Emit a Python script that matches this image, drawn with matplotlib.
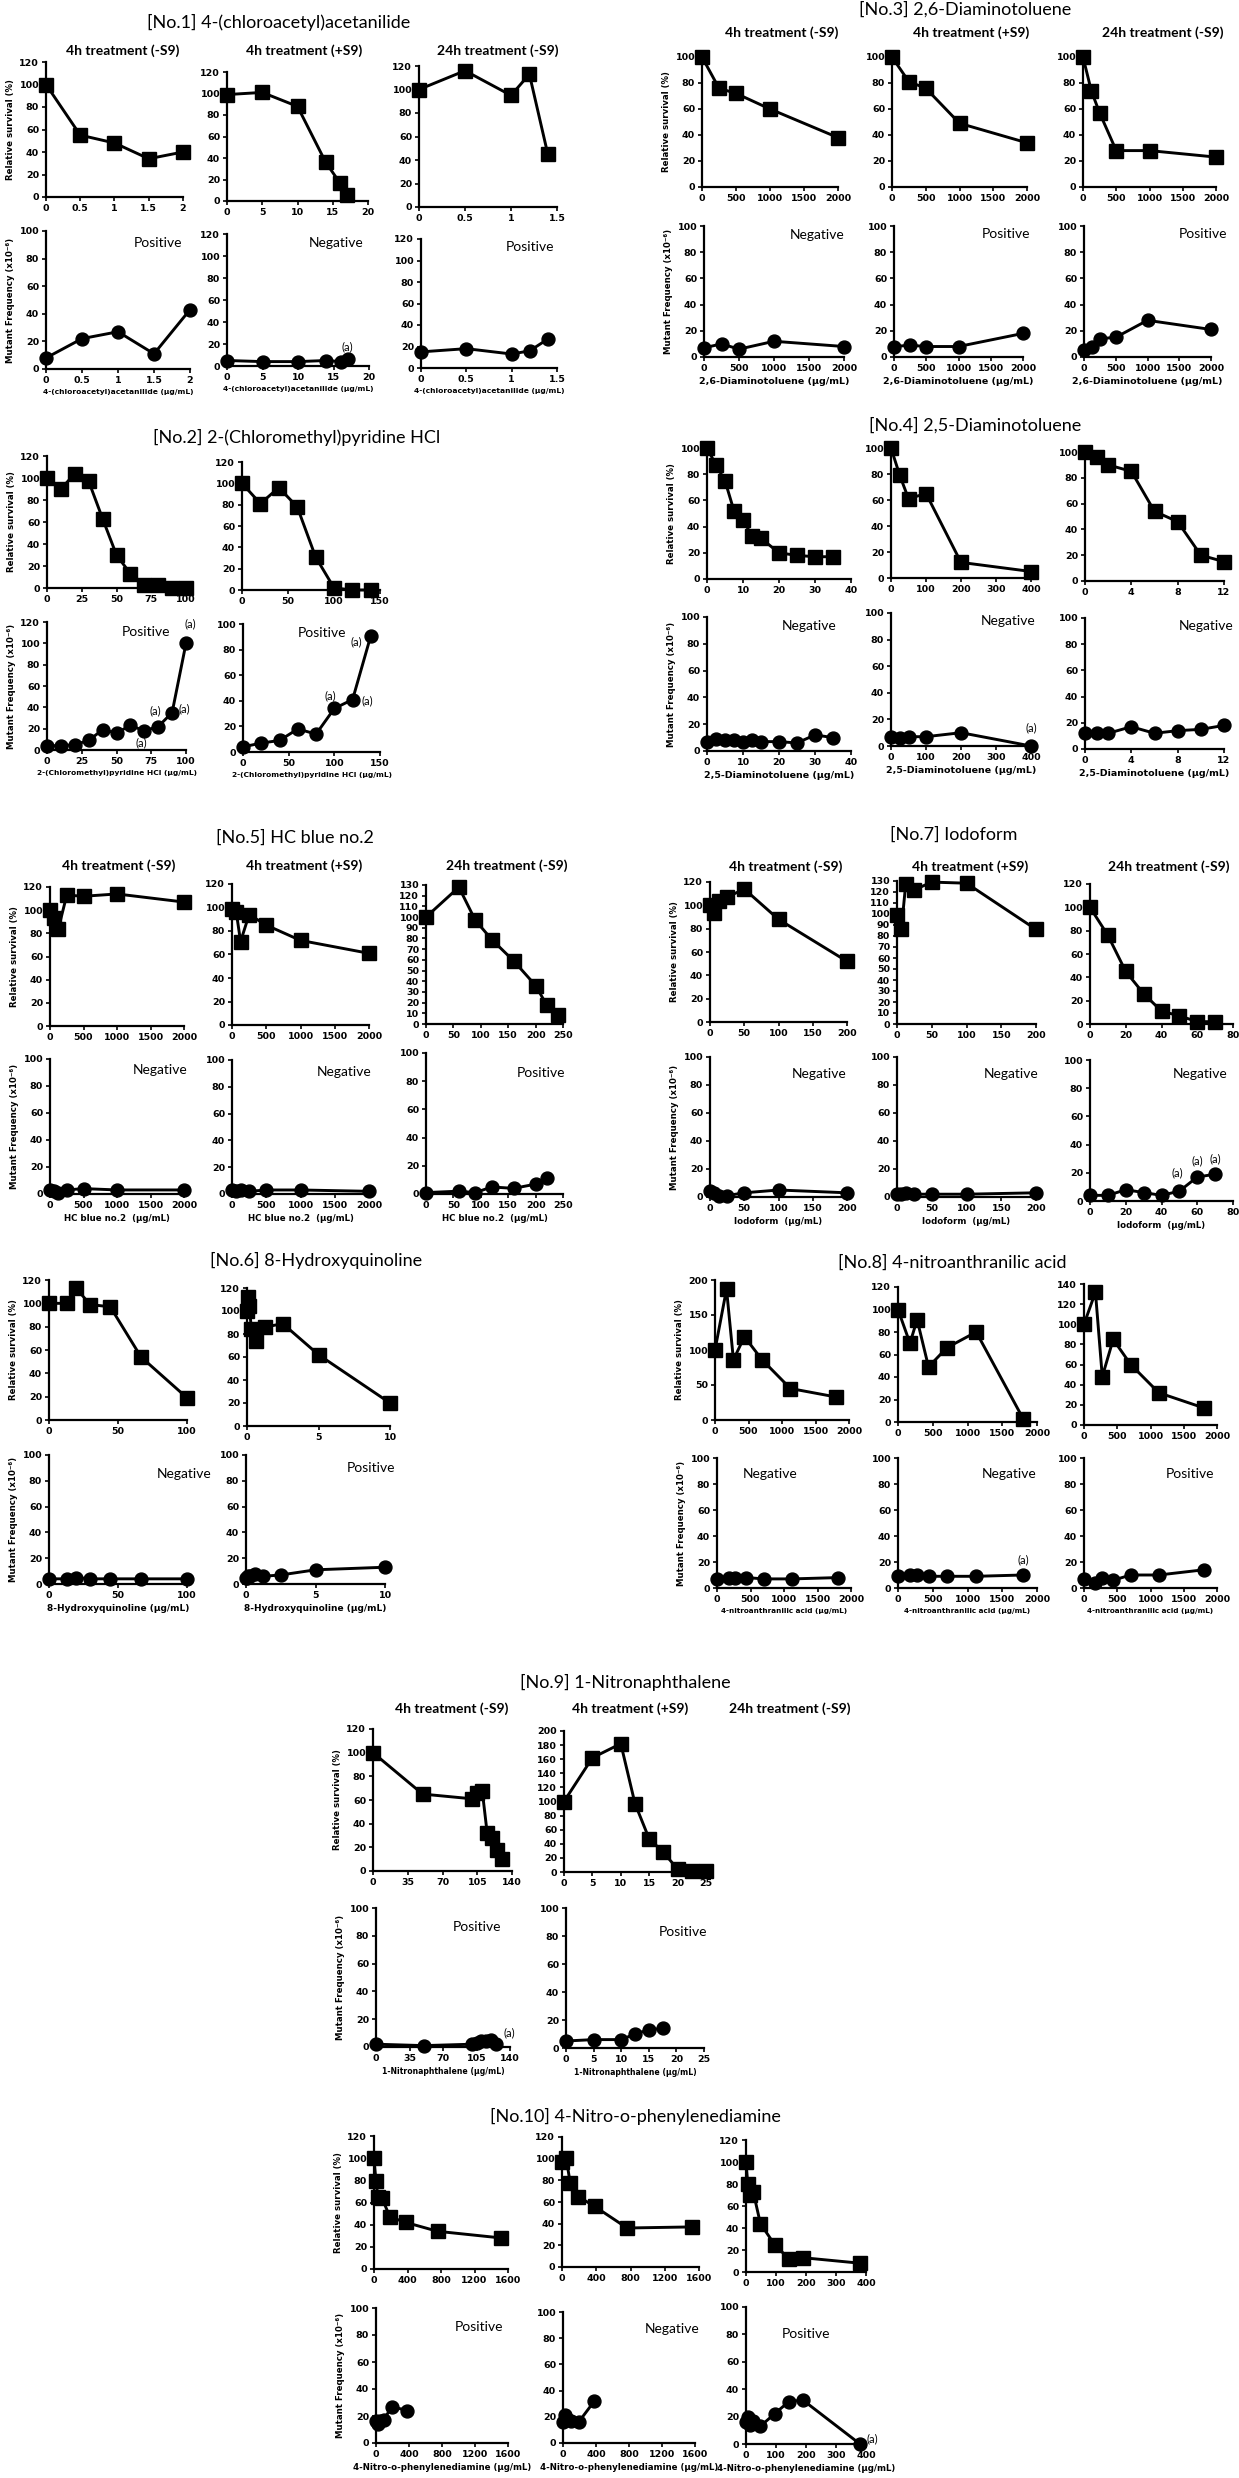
import numpy as np
import matplotlib
matplotlib.use("Agg")
import matplotlib.pyplot as plt

# ---- data (dose in ug/mL, survival in %, MF in x10^-6) ----
# No.1 4-(chloroacetyl)acetanilide
n1_xa = [0, 0.5, 1, 1.5, 2]
n1_sa = [100, 55, 48, 34, 40]
n1_ma = [8, 22, 27, 11, 43]
n1_xb = [0, 5, 10, 14, 16, 17]
n1_sb = [99, 101, 88, 36, 17, 6]
n1_mb = [5, 4, 4, 5, 4, 6]
n1_xc = [0, 0.5, 1, 1.2, 1.4]
n1_sc = [100, 116, 95, 113, 45]
n1_mc = [15, 18, 13, 16, 27]

# No.2 2-(Chloromethyl)pyridine HCl
n2_xa = [0, 10, 20, 30, 40, 50, 60, 70, 80, 90, 100]
n2_sa = [100, 90, 104, 97, 63, 30, 13, 3, 3, 0, 0]
n2_ma = [4, 4, 5, 9, 19, 16, 23, 18, 22, 35, 100]
n2_xb = [0, 20, 40, 60, 80, 100, 120, 140]
n2_sb = [100, 81, 96, 78, 31, 2, 0, 0]
n2_mb = [4, 7, 9, 18, 14, 34, 41, 91]

# No.3 2,6-Diaminotoluene
n3_xa = [0, 250, 500, 1000, 2000]
n3_sa = [100, 76, 72, 60, 38]
n3_ma = [7, 10, 6, 12, 8]
n3_xb = [0, 250, 500, 1000, 2000]
n3_sb = [100, 81, 76, 49, 34]
n3_mb = [8, 9, 8, 8, 18]
n3_xc = [0, 125, 250, 500, 1000, 2000]
n3_sc = [100, 74, 57, 28, 28, 23]
n3_mc = [5, 8, 14, 15, 28, 21]

# No.4 2,5-Diaminotoluene
n4_xa = [0, 2.5, 5, 7.5, 10, 12.5, 15, 20, 25, 30, 35]
n4_sa = [100, 87, 75, 52, 45, 33, 31, 20, 18, 17, 17]
n4_ma = [7, 9, 8, 8, 7, 8, 7, 7, 6, 12, 10]
n4_xb = [0, 25, 50, 100, 200, 400]
n4_sb = [100, 79, 61, 65, 12, 5]
n4_mb = [7, 6, 7, 7, 10, 0]
n4_xc = [0, 1, 2, 4, 6, 8, 10, 12]
n4_sc = [100, 96, 90, 85, 54, 46, 20, 15]
n4_mc = [12, 12, 12, 17, 12, 14, 15, 18]

# No.5 HC blue no.2
n5_xa = [0, 62.5, 125, 250, 500, 1000, 2000]
n5_sa = [100, 93, 84, 113, 112, 114, 107]
n5_ma = [3, 2, 1, 3, 4, 3, 3]
n5_xb = [0, 62.5, 125, 250, 500, 1000, 2000]
n5_sb = [99, 96, 71, 94, 85, 72, 61]
n5_mb = [3, 2, 3, 2, 3, 3, 2]
n5_xc = [0, 60, 90, 120, 160, 200, 220, 240]
n5_sc = [100, 128, 97, 79, 59, 36, 18, 8]
n5_xcm = [0, 60, 90, 120, 160, 200, 220]
n5_mc = [1, 2, 1, 5, 4, 7, 11]

# No.6 8-Hydroxyquinoline
n6_xa = [0, 13.2, 19.8, 29.6, 44.4, 66.7, 100]
n6_sa = [100, 100, 113, 99, 97, 54, 19]
n6_ma = [4, 4, 5, 4, 4, 4, 4]
n6_xb = [0, 0.078, 0.156, 0.3125, 0.625, 1.25, 2.5, 5, 10]
n6_sb = [100, 112, 104, 84, 74, 86, 89, 62, 20]
n6_mb = [5, 5, 6, 6, 8, 6, 7, 11, 13]

# No.7 Iodoform
n7_xa = [0, 6.25, 12.5, 25, 50, 100, 200]
n7_sa = [100, 93, 104, 107, 114, 88, 52]
n7_ma = [4, 3, 1, 1, 3, 5, 3]
n7_xb = [0, 6.25, 12.5, 25, 50, 100, 200]
n7_sb = [99, 86, 127, 122, 129, 128, 86]
n7_mb = [2, 2, 3, 2, 2, 2, 3]
n7_xc = [0, 10, 20, 30, 40, 50, 60, 70]
n7_sc = [100, 76, 45, 26, 11, 7, 2, 2]
n7_mc = [4, 4, 8, 6, 4, 7, 17, 19]

# No.8 4-nitroanthranilic acid
n8_x = [0, 172, 275, 439, 703, 1125, 1800]
n8_sa = [100, 187, 86, 119, 86, 45, 33]
n8_ma = [7, 8, 8, 8, 7, 7, 8]
n8_sb = [100, 70, 91, 49, 66, 80, 3]
n8_mb = [9, 10, 10, 9, 9, 9, 10]
n8_sc = [100, 132, 48, 85, 60, 32, 17]
n8_mc = [7, 4, 8, 6, 10, 10, 14]

# No.9 1-Nitronaphthalene
n9_xa = [0, 50, 100, 105, 110, 115, 120, 125, 130]
n9_sa = [100, 65, 61, 66, 68, 32, 28, 18, 10]
n9_xam = [0, 50, 100, 105, 110, 115, 120, 125]
n9_ma = [2, 1, 2, 3, 4, 4, 5, 2]
n9_xb = [0, 5, 10, 12.5, 15, 17.5, 20, 22.5, 25]
n9_sb = [100, 162, 182, 97, 47, 28, 4, 1, 1]
n9_xbm = [0, 5, 10, 12.5, 15, 17.5]
n9_mb = [5, 6, 6, 10, 13, 14]

# No.10 4-Nitro-o-phenylenediamine
n10_xa = [0, 23.75, 47.5, 95, 190, 380, 760, 1520]
n10_sa = [100, 79, 65, 64, 47, 42, 34, 28]
n10_xam = [0, 23.75, 47.5, 95, 190, 380]
n10_ma = [16, 14, 16, 17, 27, 24]
n10_xb = [0, 47.5, 95, 190, 380, 760, 1520]
n10_sb = [97, 101, 78, 65, 56, 36, 37]
n10_xbm = [0, 23.75, 47.5, 95, 190, 380]
n10_mb = [16, 21, 18, 17, 16, 32]
n10_xc = [0, 6, 12, 24, 48, 95, 143, 190, 380]
n10_sc = [100, 80, 70, 73, 44, 25, 12, 13, 8]
n10_mc = [16, 20, 14, 17, 13, 22, 31, 32, 0]

W, H = 1239, 2478
fig = plt.figure(figsize=(W / 100, H / 100), dpi=100)
plt.rcParams['font.family'] = ['DejaVu Sans']

SURV = "Relative survival (%)"
MF = "Mutant Frequency (x10⁻⁶)"
HEAD = ["4h treatment (-S9)", "4h treatment (+S9)", "24h treatment (-S9)"]


def panel(box, xs, ys, xmax, xstep, ymax, ystep, marker, ylabel=None, xlabel=None,
          call=None, cpos=(0.78, 0.9), notes=(), xls=6.2):
    x0, x1, yt, yb = box
    ax = fig.add_axes([x0 / W, 1 - yb / H, (x1 - x0) / W, (yb - yt) / H])
    ax.plot(xs, ys, color='black', lw=2.1, marker=marker, ms=9.8 if marker == 's' else 9.3,
            clip_on=False, zorder=3)
    ax.set_xlim(0, xmax)
    ax.set_ylim(0, ymax)
    xt = np.arange(0, xmax + xstep / 2, xstep)
    yt_ = np.arange(0, ymax + ystep / 2, ystep)
    ax.set_xticks(xt)
    ax.set_xticklabels(['%g' % v for v in xt], fontsize=6.8, fontweight='bold')
    ax.set_yticks(yt_)
    ax.set_yticklabels(['%g' % v for v in yt_], fontsize=6.8, fontweight='bold')
    for s in ['top', 'right']:
        ax.spines[s].set_visible(False)
    for s in ['left', 'bottom']:
        ax.spines[s].set_linewidth(1.6)
    ax.tick_params(direction='out', length=3, width=1.2, pad=2)
    ax.patch.set_alpha(0)
    if ylabel:
        ax.set_ylabel(ylabel, fontsize=6.2, fontweight='bold', labelpad=3)
    if xlabel:
        ax.set_xlabel(xlabel, fontsize=xls, fontweight='bold', labelpad=3)
    if call:
        ax.text(cpos[0], cpos[1], call, transform=ax.transAxes, ha='center', va='center',
                fontsize=10, family='Lato')
    for (nx, ny, dx, dy) in notes:
        ax.annotate('(a)', (nx, ny), xytext=(dx, dy), textcoords='offset pixels',
                    ha='center', va='center', fontsize=8, family='Lato')
    return ax


def title(x, y, s):
    fig.text(x / W, 1 - y / H, s, ha='center', va='center', fontsize=13, family='Lato')


def heads(y, xs, n=3):
    for x, s in zip(xs, HEAD[:n]):
        fig.text(x / W, 1 - y / H, s, ha='center', va='center', fontsize=10,
                 family='Lato', fontweight='bold')


# ---- No.1 ----
title(279, 22, "[No.1] 4-(chloroacetyl)acetanilide")
heads(51, [123, 304, 498])
lab1 = "4-(chloroacetyl)acetanilide (µg/mL)"
panel((46, 183, 62, 197), n1_xa, n1_sa, 2, 0.5, 120, 20, 's', ylabel=SURV)
panel((227, 368, 72, 201), n1_xb, n1_sb, 20, 5, 120, 20, 's')
panel((419, 557, 66, 207), n1_xc, n1_sc, 1.5, 0.5, 120, 20, 's')
panel((46, 190, 231, 369), n1_xa, n1_ma, 2, 0.5, 100, 20, 'o', ylabel=MF, xlabel=lab1,
      call="Positive", cpos=(0.78, 0.91), xls=5.4)
panel((227, 369, 234, 366), n1_xb, n1_mb, 20, 5, 120, 20, 'o', xlabel=lab1,
      call="Negative", cpos=(0.77, 0.93), notes=[(17, 6, 0, 13)], xls=5.4)
panel((421, 557, 239, 368), n1_xc, n1_mc, 1.5, 0.5, 120, 20, 'o', xlabel=lab1,
      call="Positive", cpos=(0.80, 0.94), xls=5.4)

# ---- No.3 ----
title(965, 9, "[No.3] 2,6-Diaminotoluene")
heads(33, [782, 971, 1163])
lab3 = "2,6-Diaminotoluene (µg/mL)"
panel((702, 838, 57, 187), n3_xa, n3_sa, 2000, 500, 100, 20, 's', ylabel=SURV)
panel((892, 1027, 57, 187), n3_xb, n3_sb, 2000, 500, 100, 20, 's')
panel((1083, 1216, 57, 187), n3_xc, n3_sc, 2000, 500, 100, 20, 's')
panel((704, 844, 226, 357), n3_xa, n3_ma, 2000, 500, 100, 20, 'o', ylabel=MF, xlabel=lab3,
      call="Negative", cpos=(0.81, 0.93), xls=6.8)
panel((894, 1023, 226, 357), n3_xb, n3_mb, 2000, 500, 100, 20, 'o', xlabel=lab3,
      call="Positive", cpos=(0.87, 0.94), xls=6.8)
panel((1084, 1211, 226, 357), n3_xc, n3_mc, 2000, 500, 100, 20, 'o', xlabel=lab3,
      call="Positive", cpos=(0.94, 0.94), xls=6.8)

# ---- No.2 ----
title(297, 437, "[No.2] 2-(Chloromethyl)pyridine HCl")
lab2 = "2-(Chloromethyl)pyridine HCl (µg/mL)"
panel((47, 186, 456, 588), n2_xa, n2_sa, 100, 25, 120, 20, 's', ylabel=SURV)
panel((242, 380, 462, 590), n2_xb, n2_sb, 150, 50, 120, 20, 's')
panel((47, 186, 622, 750), n2_xa, n2_ma, 100, 25, 120, 20, 'o', ylabel=MF, xlabel=lab2,
      call="Positive", cpos=(0.71, 0.92), xls=5.4,
      notes=[(100, 100, 4, 20), (90, 35, -17, 2), (90, 35, 12, 4), (70, 18, -3, -12)])
panel((243, 380, 624, 752), n2_xb, n2_mb, 150, 50, 100, 20, 'o', xlabel=lab2,
      call="Positive", cpos=(0.58, 0.93), xls=5.4,
      notes=[(140, 91, -15, -6), (100, 34, -4, 13), (120, 41, 15, -1)])

# ---- No.4 ----
title(975, 425, "[No.4] 2,5-Diaminotoluene")
lab4 = "2,5-Diaminotoluene (µg/mL)"
panel((707, 851, 448, 579), n4_xa, n4_sa, 40, 10, 100, 20, 's', ylabel=SURV)
panel((891, 1031, 448, 578), n4_xb, n4_sb, 400, 100, 100, 20, 's')
panel((1085, 1224, 452, 581), n4_xc, n4_sc, 12, 4, 100, 20, 's')
panel((707, 851, 617, 751), n4_xa, n4_ma, 40, 10, 100, 20, 'o', ylabel=MF, xlabel=lab4,
      call="Negative", cpos=(0.71, 0.93), xls=6.8)
panel((891, 1031, 613, 746), n4_xb, n4_mb, 400, 100, 100, 20, 'o', xlabel=lab4,
      call="Negative", cpos=(0.84, 0.94), xls=6.8, notes=[(400, 0, 0, 18)])
panel((1085, 1224, 618, 749), n4_xc, n4_mc, 12, 4, 100, 20, 'o', xlabel=lab4,
      call="Negative", cpos=(0.87, 0.94), xls=6.8)

# ---- No.5 ----
title(295, 838, "[No.5] HC blue no.2")
heads(866, [119, 304, 507])
lab5 = "HC blue no.2  (µg/mL)"
panel((50, 184, 887, 1026), n5_xa, n5_sa, 2000, 500, 120, 20, 's', ylabel=SURV)
panel((232, 369, 884, 1025), n5_xb, n5_sb, 2000, 500, 120, 20, 's')
panel((426, 563, 885, 1024), n5_xc, n5_sc, 250, 50, 130, 10, 's')
panel((50, 184, 1059, 1194), n5_xa, n5_ma, 2000, 500, 100, 20, 'o', ylabel=MF, xlabel=lab5,
      call="Negative", cpos=(0.82, 0.92))
panel((232, 369, 1060, 1194), n5_xb, n5_mb, 2000, 500, 100, 20, 'o', xlabel=lab5,
      call="Negative", cpos=(0.82, 0.91))
panel((426, 563, 1053, 1194), n5_xcm, n5_mc, 250, 50, 100, 20, 'o', xlabel=lab5,
      call="Positive", cpos=(0.84, 0.86))

# ---- No.7 ----
title(954, 835, "[No.7] Iodoform")
heads(867, [786, 970, 1169])
lab7 = "Iodoform  (µg/mL)"
panel((710, 847, 882, 1022), n7_xa, n7_sa, 200, 50, 120, 20, 's', ylabel=SURV)
panel((897, 1036, 881, 1024), n7_xb, n7_sb, 200, 50, 130, 10, 's')
panel((1090, 1233, 884, 1024), n7_xc, n7_sc, 80, 20, 120, 20, 's')
panel((710, 847, 1057, 1197), n7_xa, n7_ma, 200, 50, 100, 20, 'o', ylabel=MF, xlabel=lab7,
      call="Negative", cpos=(0.80, 0.88))
panel((897, 1036, 1057, 1197), n7_xb, n7_mb, 200, 50, 100, 20, 'o', xlabel=lab7,
      call="Negative", cpos=(0.82, 0.88))
panel((1090, 1233, 1060, 1201), n7_xc, n7_mc, 80, 20, 100, 20, 'o', xlabel=lab7,
      call="Negative", cpos=(0.77, 0.90),
      notes=[(50, 7, -2, 18), (60, 17, 0, 16), (70, 19, 0, 15)])

# ---- No.6 ----
title(316, 1260, "[No.6] 8-Hydroxyquinoline")
lab6 = "8-Hydroxyquinoline (µg/mL)"
panel((49, 187, 1280, 1420), n6_xa, n6_sa, 100, 50, 120, 20, 's', ylabel=SURV)
panel((247, 390, 1288, 1426), n6_xb, n6_sb, 10, 5, 120, 20, 's')
panel((49, 187, 1455, 1584), n6_xa, n6_ma, 100, 50, 100, 20, 'o', ylabel=MF, xlabel=lab6,
      call="Negative", cpos=(0.98, 0.85), xls=6.5)
panel((246, 385, 1455, 1584), n6_xb, n6_mb, 10, 5, 100, 20, 'o', xlabel=lab6,
      call="Positive", cpos=(0.90, 0.90), xls=6.5)

# ---- No.8 ----
title(952, 1263, "[No.8] 4-nitroanthranilic acid")
lab8 = "4-nitroanthranilic acid (µg/mL)"
panel((715, 849, 1280, 1420), n8_x, n8_sa, 2000, 500, 200, 50, 's', ylabel=SURV)
panel((898, 1037, 1287, 1422), n8_x, n8_sb, 2000, 500, 120, 20, 's')
panel((1084, 1217, 1284, 1425), n8_x, n8_sc, 2000, 500, 140, 20, 's')
panel((717, 851, 1458, 1588), n8_x, n8_ma, 2000, 500, 100, 20, 'o', ylabel=MF, xlabel=lab8,
      call="Negative", cpos=(0.40, 0.88), xls=5.2)
panel((898, 1037, 1458, 1588), n8_x, n8_mb, 2000, 500, 100, 20, 'o', xlabel=lab8,
      call="Negative", cpos=(0.80, 0.88), xls=5.2, notes=[(1800, 10, 0, 15)])
panel((1084, 1217, 1458, 1588), n8_x, n8_mc, 2000, 500, 100, 20, 'o', xlabel=lab8,
      call="Positive", cpos=(0.80, 0.88), xls=5.2)

# ---- No.9 ----
title(625, 1682, "[No.9] 1-Nitronaphthalene")
heads(1709, [452, 630, 790])
lab9 = "1-Nitronaphthalene (µg/mL)"
panel((373, 512, 1729, 1871), n9_xa, n9_sa, 140, 35, 120, 20, 's', ylabel=SURV)
panel((564, 706, 1731, 1872), n9_xb, n9_sb, 25, 5, 200, 20, 's')
panel((376, 510, 1908, 2047), n9_xam, n9_ma, 140, 35, 100, 20, 'o', ylabel=MF, xlabel=lab9,
      call="Positive", cpos=(0.75, 0.86), xls=5.6, notes=[(125, 2, 14, 11)])
panel((566, 704, 1908, 2048), n9_xbm, n9_mb, 25, 5, 100, 20, 'o', xlabel=lab9,
      call="Positive", cpos=(0.85, 0.83), xls=5.6)

# ---- No.10 ----
title(635, 2116, "[No.10] 4-Nitro-o-phenylenediamine")
lab10 = "4-Nitro-o-phenylenediamine (µg/mL)"
panel((374, 508, 2136, 2269), n10_xa, n10_sa, 1600, 400, 120, 20, 's', ylabel=SURV)
panel((562, 699, 2137, 2267), n10_xb, n10_sb, 1600, 400, 120, 20, 's')
panel((746, 866, 2140, 2272), n10_xc, n10_sc, 400, 100, 120, 20, 's')
panel((376, 508, 2308, 2443), n10_xam, n10_ma, 1600, 400, 100, 20, 'o', ylabel=MF,
      xlabel=lab10, call="Positive", cpos=(0.78, 0.86), xls=6.2)
panel((563, 695, 2312, 2443), n10_xbm, n10_mb, 1600, 400, 100, 20, 'o', xlabel=lab10,
      call="Negative", cpos=(0.83, 0.87), xls=6.2)
panel((746, 866, 2307, 2444), n10_xc, n10_mc, 400, 100, 100, 20, 'o', xlabel=lab10,
      call="Positive", cpos=(0.50, 0.80), xls=6.2, notes=[(380, 0, 12, 5)])

fig.savefig("out.png", dpi=100, facecolor='white')
